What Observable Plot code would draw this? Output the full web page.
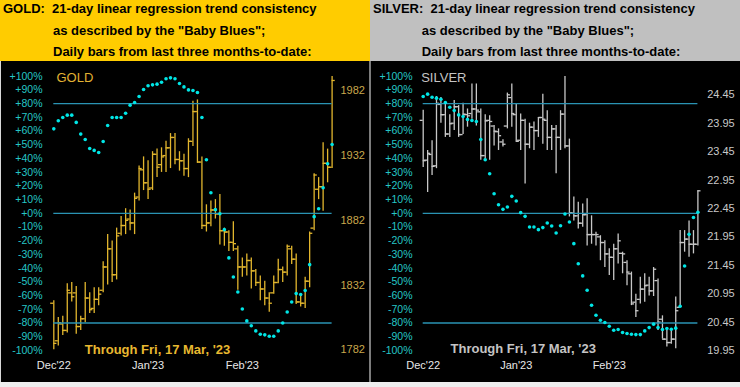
<!DOCTYPE html>
<html><head><meta charset="utf-8">
<script src="https://cdn.jsdelivr.net/npm/d3@7"></script>
<script src="https://cdn.jsdelivr.net/npm/@observablehq/plot@0.6"></script>
<style>
html,body{margin:0;padding:0;background:#000;}
#wrap{position:relative;width:740px;height:387px;overflow:hidden;font-family:"Liberation Sans",Arial,sans-serif;}
.panel{position:absolute;top:0;width:370px;height:387px;background:#000;}
.hdr{position:absolute;left:0;top:0;}
.sep{position:absolute;}
</style></head>
<body>
<div id="wrap">
  <div class="panel" id="gold" style="left:0">
    <svg class="hdr" width="370" height="61" style="font-family:'Liberation Sans',Arial,sans-serif;font-weight:bold;font-size:13px">
      <rect width="370" height="61" fill="#ffcc00"></rect>
      <text x="3" y="12.5" style="white-space:pre">GOLD:  21-day linear regression trend consistency</text>
      <text x="53" y="34.5">as described by the "Baby Blues";</text>
      <text x="53" y="55.5">Daily bars from last three months-to-date:</text>
    </svg>
  </div>
  <div class="panel" id="silver" style="left:370px">
    <svg class="hdr" width="370" height="61" style="font-family:'Liberation Sans',Arial,sans-serif;font-weight:bold;font-size:13px">
      <rect width="370" height="61" fill="#c0c0c0"></rect>
      <text x="3" y="12.5" style="white-space:pre">SILVER:  21-day linear regression trend consistency</text>
      <text x="51.7" y="34.5">as described by the "Baby Blues";</text>
      <text x="51.7" y="55.5">Daily bars from last three months-to-date:</text>
    </svg>
  </div>
  <div class="sep" style="left:369px;top:61px;width:1.5px;height:326px;background:#7c7c7c"></div>
  <div class="sep" style="left:0;top:61px;width:1px;height:326px;background:#d8d8d8"></div>
  <div class="sep" style="left:0;top:382px;width:740px;height:5px;background:#eeeeee"></div>
</div>
<script>
// ---------- shared axis data ----------
const pctTicks = [100,90,80,70,60,50,40,30,20,10,0,-10,-20,-30,-40,-50,-60,-70,-80,-90,-100];
const pctLevels = [80, 0, -80];
const monthTicks = [0, 21, 42];
const monthLabels = ["Dec'22", "Jan'23", "Feb'23"];
const throughLabel = "Through Fri, 17 Mar, '23";

// ---------- GOLD ----------
const goldOpen  = [1818,1789,1802,1797,1826,1826,1800,1806,1822,1814,1821,1828,1846,1860,1840,1872,1878,1883,1880,1900,1921,1911,1907,1933,1925,1932,1938,1946,1929,1928,1922,1943,1966,1927,1878,1880,1890,1887,1874,1873,1865,1860,1846,1846,1851,1843,1834,1829,1822,1826,1834,1844,1842,1860,1852,1819,1818,1835,1876,1906,1908,1926,1923];
const goldHigh  = [1820,1807,1808,1833,1834,1831,1808,1834,1826,1830,1830,1850,1871,1866,1876,1885,1891,1890,1903,1924,1931,1928,1935,1937,1938,1943,1949,1949,1935,1933,1945,1974,1975,1931,1894,1897,1898,1902,1876,1874,1881,1862,1853,1856,1853,1844,1839,1835,1826,1839,1852,1846,1863,1862,1856,1825,1838,1873,1918,1915,1942,1937,1993];
const goldLow   = [1782,1785,1793,1795,1819,1794,1797,1803,1810,1810,1816,1826,1832,1834,1836,1870,1871,1874,1871,1897,1905,1898,1905,1915,1919,1919,1922,1925,1920,1916,1915,1939,1926,1875,1873,1877,1883,1863,1862,1858,1858,1828,1838,1839,1829,1831,1820,1816,1811,1825,1833,1834,1839,1848,1817,1815,1814,1830,1874,1898,1889,1911,1922];
const goldClose = [1787,1803,1797,1828,1823,1800,1806,1822,1813,1821,1825,1846,1860,1840,1870,1878,1882,1880,1899,1922,1911,1906,1933,1923,1931,1938,1946,1929,1928,1922,1943,1966,1927,1878,1880,1890,1887,1874,1873,1865,1864,1846,1846,1851,1843,1834,1829,1822,1818,1834,1844,1842,1862,1852,1819,1818,1835,1872,1917,1908,1926,1923,1990];
const goldTrend = [61.6,67.5,69.9,71.6,71.6,66.3,57.8,53.9,47.3,45.9,44.4,52.4,64.1,69.9,69.9,69.9,73.0,78.9,80.8,85.2,90.3,93.0,93.7,94.2,95.6,98.1,98.8,98.1,94.7,92.2,90.0,89.6,88.1,69.9,39.1,15.0,2.7,-0.3,-11.9,-32.5,-46.4,-57.3,-69.7,-78.4,-82.0,-85.7,-88.1,-88.6,-89.6,-89.6,-85.7,-79.9,-71.9,-64.6,-58.5,-59.2,-56.3,-37.4,-2.4,3.4,18.7,36.2,50.2];
const goldPriceDomain = [1781.5, 1993.3];
const goldPriceTicks = [1782, 1832, 1882, 1932, 1982];

// ---------- SILVER ----------
const silverOpen  = [24.00,23.30,23.40,23.20,24.28,24.10,23.76,23.95,24.24,23.75,24.10,24.12,24.20,24.15,23.38,24.00,23.90,23.80,23.62,23.90,24.40,24.10,23.65,24.00,23.58,23.88,23.82,24.05,24.00,23.70,23.85,23.70,24.11,23.55,22.37,22.32,22.19,22.34,21.99,21.99,21.95,21.85,21.65,21.59,21.74,21.66,21.50,21.30,20.80,20.85,21.03,21.10,21.00,21.18,20.50,20.15,20.09,20.15,20.71,21.85,21.91,21.82,21.82];
const silverHigh  = [24.18,23.47,23.64,24.42,24.40,24.30,24.10,24.35,24.26,24.30,24.20,24.64,24.64,24.20,24.10,24.08,23.91,23.85,23.66,24.48,24.64,24.29,24.11,24.02,23.95,23.97,24.05,24.46,24.17,23.91,23.91,24.17,24.77,23.67,22.65,22.56,22.53,22.62,22.32,22.03,21.97,21.88,21.74,21.82,22.00,21.68,21.53,21.33,20.94,21.24,21.30,21.24,21.41,21.21,20.56,20.30,20.33,20.89,22.06,22.06,22.23,22.06,22.76];
const silverLow   = [23.17,22.73,23.03,23.15,23.95,23.70,23.70,23.82,23.70,23.75,23.88,24.02,23.90,23.30,23.30,23.30,23.55,23.47,23.53,23.85,23.88,23.62,23.47,22.88,23.50,23.47,23.70,23.58,23.47,23.47,23.06,23.47,23.50,22.30,22.23,22.09,22.12,21.79,21.82,21.79,21.53,21.41,21.27,21.18,21.47,21.30,21.09,20.74,20.53,20.77,20.80,20.91,20.90,20.30,20.15,20.01,20.06,19.98,20.71,21.68,21.59,21.65,21.79];
const silverClose = [23.29,23.42,23.19,24.30,24.10,23.76,23.94,24.24,23.75,24.11,24.08,24.20,24.18,23.38,23.99,23.98,23.81,23.73,23.58,24.45,24.12,23.63,24.00,23.58,23.88,23.82,24.05,24.02,23.70,23.85,23.70,24.11,23.55,22.37,22.32,22.19,22.34,21.99,21.99,21.99,21.85,21.65,21.59,21.74,21.88,21.65,21.33,20.77,20.65,21.03,21.09,21.00,21.38,20.45,20.15,20.09,20.15,20.65,21.85,21.91,21.82,21.82,22.76];
const silverTrend = [85.2,86.9,84.7,84.0,83.2,80.8,77.4,75.0,71.8,70.6,68.4,67.7,67.0,53.9,39.1,28.9,14.3,6.3,2.9,4.6,12.4,9.0,0.5,-2.2,-10.0,-10.0,-11.9,-10.4,-7.0,-9.2,-14.3,-9.0,-0.5,-6.3,-22.1,-36.7,-45.6,-56.1,-67.0,-74.3,-77.9,-79.6,-82.3,-85.2,-84.7,-86.9,-87.6,-88.1,-88.4,-88.4,-85.7,-83.3,-80.8,-83.3,-84.7,-84.0,-84.5,-83.7,-67.7,-38.4,-15.3,-3.0,0.8];
const silverPriceDomain = [19.95, 24.777];
const silverPriceTicks = [19.95,20.45,20.95,21.45,21.95,22.45,22.95,23.45,23.95,24.45];

const W = 370, H = 326, MT = 14.7, MB = 37;
const FONT = "'Liberation Sans', Arial, sans-serif";

function pricePlot(cfg) {
  const data = cfg.open.map((v, i) => ({i, open: v, high: cfg.high[i], low: cfg.low[i], close: cfg.close[i]}));
  return Plot.plot({
    width: W, height: H, marginTop: MT, marginBottom: MB, marginLeft: cfg.ml, marginRight: cfg.mr,
    style: {background: "transparent", fontFamily: FONT, overflow: "visible"},
    x: {type: "linear", domain: [0, cfg.open.length - 1], axis: null},
    y: {domain: cfg.domain, axis: null},
    marks: [
      Plot.ruleX(data, {x: "i", y1: "low", y2: "high", stroke: cfg.barColor, strokeWidth: 1.3}),
      Plot.ruleY(data, {y: "open", x1: d => d.i - 0.7, x2: "i", stroke: cfg.barColor, strokeWidth: 1.3}),
      Plot.ruleY(data, {y: "close", x1: "i", x2: d => d.i + 0.7, stroke: cfg.barColor, strokeWidth: 1.3}),
      Plot.axisY({anchor: "right", ticks: cfg.ticks, tickFormat: cfg.fmt, tickSize: 0, tickPadding: cfg.pad,
                  fill: cfg.labelColor, fontSize: 11, label: null})
    ]
  });
}

function pctPlot(cfg) {
  const pts = cfg.trend.map((v, i) => ({i, v}));
  return Plot.plot({
    width: W, height: H, marginTop: MT, marginBottom: MB, marginLeft: cfg.ml, marginRight: cfg.mr,
    style: {background: "transparent", fontFamily: FONT, overflow: "visible"},
    x: {type: "linear", domain: [0, cfg.trend.length - 1], label: null},
    y: {domain: [-100, 100], label: null},
    marks: [
      Plot.ruleY(pctLevels, {stroke: "#2a93b3", strokeWidth: 1.4}),
      Plot.axisY({anchor: "left", ticks: pctTicks, tickFormat: d => (d >= 0 ? "+" : "") + d + "%",
                  tickSize: 0, tickPadding: cfg.pad, fill: "#25c6c6", fontSize: 10.5, label: null}),
      Plot.axisX({ticks: monthTicks, tickFormat: i => monthLabels[monthTicks.indexOf(i)],
                  tickSize: 0, tickPadding: 11, fill: "#e8e8e8", fontSize: 11, label: null}),
      Plot.dot(pts, {x: "i", y: "v", r: 1.8, fill: "#00e6e6"}),
      Plot.text([cfg.name], {frameAnchor: "top-left", textAnchor: "start", lineAnchor: "bottom",
                  dx: cfg.nameDx, dy: 5.3, fill: cfg.nameColor, fontSize: 13}),
      Plot.text([throughLabel], {frameAnchor: "bottom-left", textAnchor: "start", lineAnchor: "bottom",
                  dx: cfg.thrDx, dy: cfg.thrDy, fill: cfg.thrColor, fontSize: 13, fontWeight: "bold"})
    ]
  });
}

function mount(id, el) {
  el.style.position = "absolute";
  el.style.left = "0px";
  el.style.top = "61px";
  document.getElementById(id).appendChild(el);
}

mount("gold", pricePlot({open: goldOpen, high: goldHigh, low: goldLow, close: goldClose,
  domain: goldPriceDomain, ticks: goldPriceTicks, fmt: d => String(d), pad: 8.4,
  ml: 53.3, mr: 38.4, barColor: "#e2b62e", labelColor: "#c9a84c"}));
mount("gold", pctPlot({trend: goldTrend, ml: 53.3, mr: 38.4, pad: 11.3, name: "GOLD", nameDx: 2.7,
  nameColor: "#e2b232", thrDx: 31, thrDy: 3.3, thrColor: "#e8b830"}));

mount("silver", pricePlot({open: silverOpen, high: silverHigh, low: silverLow, close: silverClose,
  domain: silverPriceDomain, ticks: silverPriceTicks, fmt: d => d.toFixed(2), pad: 9.3,
  ml: 52.7, mr: 42.6, barColor: "#c8c8c8", labelColor: "#c8c8c8"}));
mount("silver", pctPlot({trend: silverTrend, ml: 52.7, mr: 42.6, pad: 10.7, name: "SILVER", nameDx: -2,
  nameColor: "#c4c4c4", thrDx: 27.3, thrDy: 2, thrColor: "#c4c4c4"}));
</script>
</body></html>
